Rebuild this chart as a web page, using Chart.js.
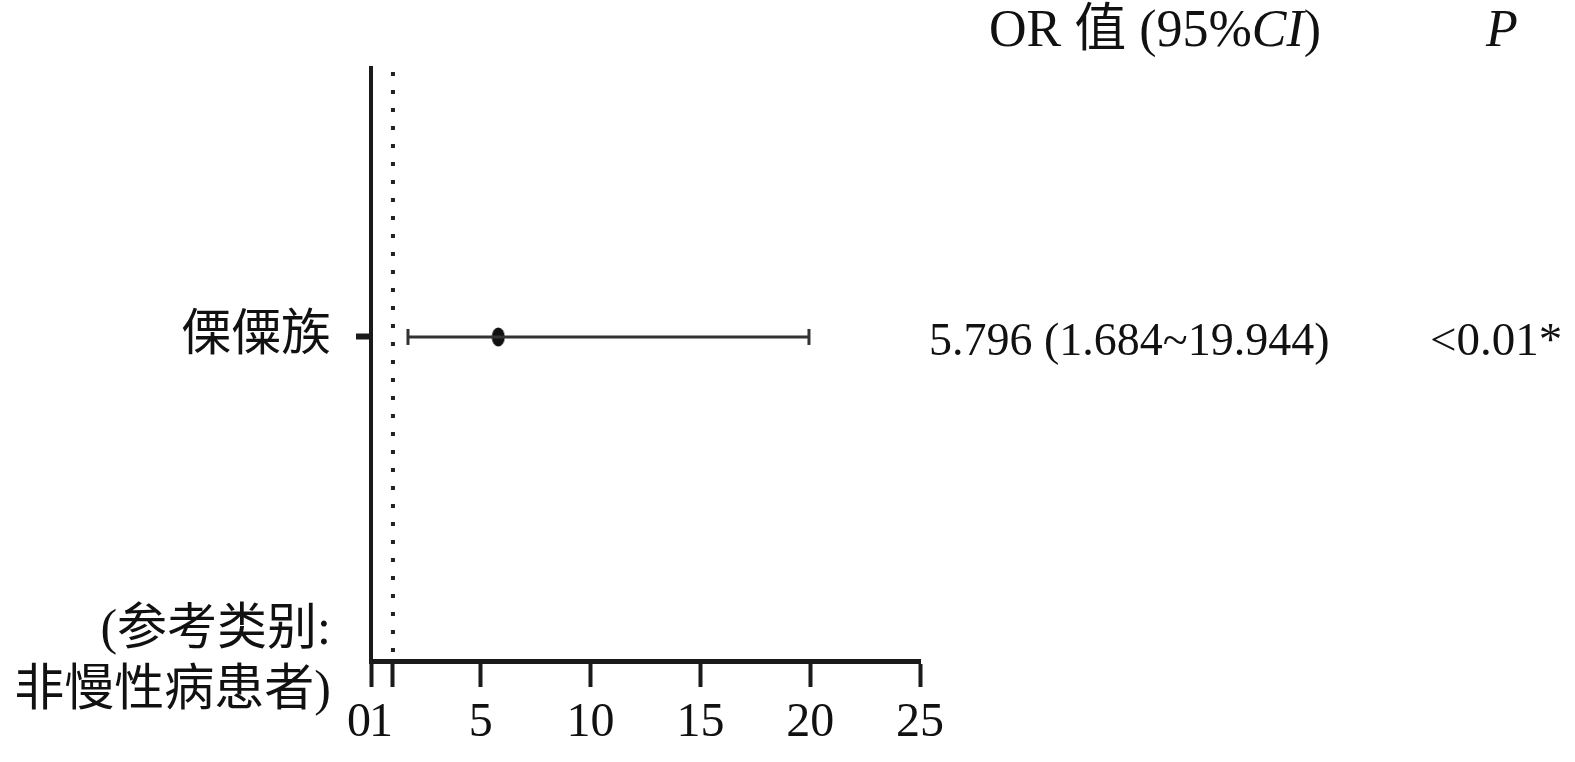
<!DOCTYPE html>
<html>
<head>
<meta charset="utf-8">
<script src="https://cdn.jsdelivr.net/npm/chart.js@4.4.0/dist/chart.umd.min.js"></script>
<style>
  html, body { margin: 0; padding: 0; background: #ffffff; }
  #wrap { width: 1575px; height: 762px; position: relative; }
</style>
</head>
<body>
<div id="wrap"><canvas id="c" width="1575" height="762"></canvas></div>
<script>
// ---- data ----
const rowLabels = ['傈僳族'];
const referenceLabel = ['(参考类别:', '非慢性病患者)'];
const orValues = [5.796];
const ciLower = [1.684];
const ciUpper = [19.944];
const pTexts = ['<0.01*'];
const orTexts = ['5.796 (1.684~19.944)'];
const xTicks = [0, 1, 5, 10, 15, 20, 25];
const refLine = 1;
const headerOR = ['OR 值 (95%', 'CI', ')'];
const headerP = 'P';

const SERIF = '"Liberation Serif", "Noto Sans CJK SC", serif';
const rowY = rowLabels.map((_, i) => i + 1);
const yMax = 1.83;

// elliptical marker
const marker = document.createElement('canvas');
marker.width = 14; marker.height = 20;
(function () {
  const m = marker.getContext('2d');
  m.fillStyle = '#111';
  m.beginPath();
  m.ellipse(7, 10, 6.5, 9.5, 0, 0, Math.PI * 2);
  m.fill();
})();

const textPlugin = {
  id: 'sideText',
  afterDraw(chart) {
    const ctx = chart.ctx;
    const ys = chart.scales.y;
    ctx.save();
    ctx.fillStyle = '#111';
    ctx.textBaseline = 'middle';
    ctx.textAlign = 'left';
    // header
    let x = 989;
    const hy = 32;
    const parts = [[headerOR[0], 'normal'], [headerOR[1], 'italic'], [headerOR[2], 'normal']];
    parts.forEach(([t, st]) => {
      ctx.font = st + ' 52px ' + SERIF;
      ctx.fillText(t, x, hy);
      x += ctx.measureText(t).width;
    });
    ctx.font = 'italic 52px ' + SERIF;
    ctx.fillText(headerP, 1486, hy);
    // rows
    ctx.font = '46px ' + SERIF;
    rowY.forEach((v, i) => {
      const py = ys.getPixelForValue(v) + 6;
      ctx.fillText(orTexts[i], 929, py);
      ctx.font = '47px ' + SERIF;
      ctx.fillText(pTexts[i], 1430, py);
    });
    ctx.restore();
  }
};

new Chart(document.getElementById('c'), {
  type: 'scatter',
  data: {
    datasets: [
      {
        type: 'line',
        data: [{ x: refLine, y: yMax }, { x: refLine, y: 0 }],
        borderColor: '#222',
        borderWidth: 4,
        borderDash: [4, 14],
        borderDashOffset: -4,
        pointRadius: 0,
        fill: false
      },
      ...rowY.map((v, i) => ({
        type: 'line',
        data: [{ x: ciLower[i], y: v }, { x: ciUpper[i], y: v }],
        borderColor: '#333',
        borderWidth: 3,
        pointStyle: 'line',
        rotation: 90,
        pointRadius: 8,
        pointBorderWidth: 3,
        pointBorderColor: '#333',
        fill: false
      })),
      {
        type: 'scatter',
        data: rowY.map((v, i) => ({ x: orValues[i], y: v })),
        pointStyle: marker,
        pointRadius: 8,
        backgroundColor: '#111',
        borderColor: '#111',
        borderWidth: 0
      }
    ]
  },
  options: {
    responsive: false,
    animation: false,
    devicePixelRatio: 1,
    layout: { padding: { top: 68, right: 655, left: 0, bottom: 0 } },
    plugins: { legend: { display: false }, tooltip: { enabled: false } },
    scales: {
      x: {
        type: 'linear',
        min: 0,
        max: 25,
        afterBuildTicks: (s) => { s.ticks = xTicks.map(v => ({ value: v })); },
        afterFit: (s) => { s.height = 101; s.paddingLeft = 0; s.paddingRight = 0; },
        border: { display: true, color: '#1a1a1a', width: 5 },
        grid: {
          drawOnChartArea: false,
          drawTicks: true,
          tickLength: 26,
          tickWidth: 4,
          tickColor: '#1a1a1a'
        },
        ticks: {
          autoSkip: false,
          maxRotation: 0,
          color: '#111',
          padding: 8,
          font: { family: SERIF, size: 48 },
          callback: (v) => (v === 0 || v === 1) ? v + '\u2002' : String(v)
        }
      },
      y: {
        type: 'linear',
        min: 0,
        max: yMax,
        afterBuildTicks: (s) => { s.ticks = [{ value: 0 }, ...rowY.map(v => ({ value: v }))]; },
        afterFit: (s) => { s.width = 371; s.paddingTop = 0; s.paddingBottom = 0; },
        border: { display: true, color: '#1a1a1a', width: 4 },
        grid: {
          drawOnChartArea: false,
          drawTicks: true,
          tickLength: 15,
          tickWidth: 6,
          tickColor: (c) => (c.tick && c.tick.value === 0) ? 'rgba(0,0,0,0)' : '#1a1a1a'
        },
        ticks: {
          autoSkip: false,
          color: '#111',
          padding: 25,
          font: { family: SERIF, size: 50, lineHeight: 1.22 },
          callback: (v) => v === 0 ? referenceLabel : (rowLabels[rowY.indexOf(v)] || '')
        }
      }
    }
  },
  plugins: [textPlugin]
});
</script>
</body>
</html>
